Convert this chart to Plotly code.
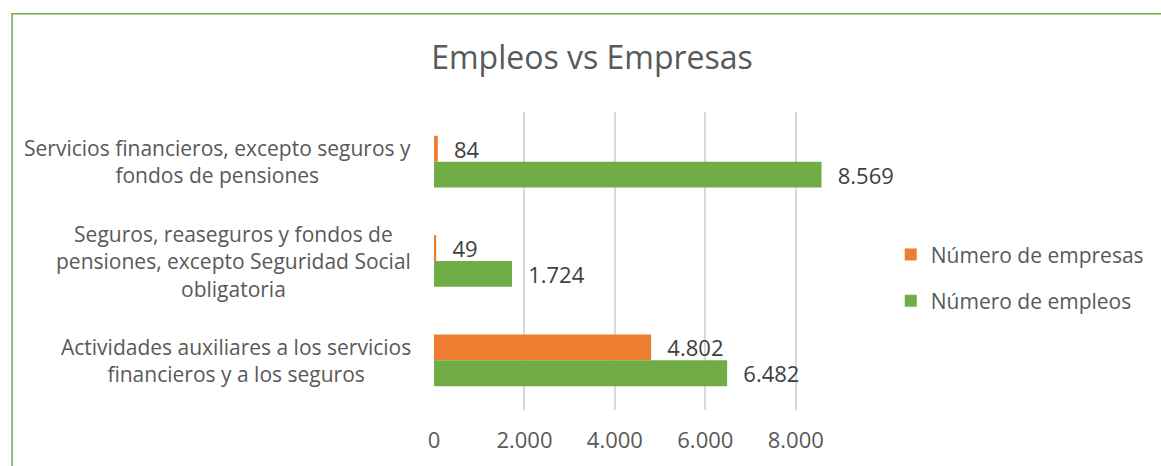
import plotly.graph_objects as go

categories = [
    "Servicios financieros, excepto seguros y<br>fondos de pensiones",
    "Seguros, reaseguros y fondos de<br>pensiones, excepto Seguridad Social<br>obligatoria",
    "Actividades auxiliares a los servicios<br>financieros y a los seguros",
]
cat_keys = ["Servicios", "Seguros", "Actividades"]
empresas = [84, 49, 4802]
empleos = [8569, 1724, 6482]
series_names = ["Número de empresas", "Número de empleos"]
tick_vals = [0, 2000, 4000, 6000, 8000]
tick_text = ["0", "2.000", "4.000", "6.000", "8.000"]

ORANGE = "#ED7D31"
GREEN = "#70AD47"
FONT = "Open Sans"
TXT = "#595959"

W, H = 1161, 466
L, R = 434, 843
T, B = 112, 412
pw, ph = R - L, B - T

fig = go.Figure()
for name, vals, col, grp in [(series_names[0], empresas, ORANGE, "a"),
                             (series_names[1], empleos, GREEN, "b")]:
    fig.add_trace(go.Bar(
        y=cat_keys, x=vals, name=name, orientation="h",
        marker=dict(color=col, line=dict(width=0)),
        texttemplate="\u2002\u200a%{x:,}", textposition="outside",
        textfont=dict(family=FONT, size=22, color="#404040"),
        cliponaxis=False, constraintext="none", legendgroup=grp,
    ))

for key, lab in zip(cat_keys, categories):
    fig.add_annotation(x=(413 - L) / pw, xref="paper", y=key, yref="y",
                       text=lab, showarrow=False, xanchor="right", align="center",
                       font=dict(family=FONT, size=21, color=TXT))

# chart border (green)
fig.add_shape(type="rect", xref="paper", yref="paper",
              x0=(10 - L) / pw, x1=3, y0=-2, y1=(B - 13) / ph,
              line=dict(color=GREEN, width=1.5), fillcolor="rgba(0,0,0,0)", layer="below")

fig.update_layout(
    width=W, height=H,
    margin=dict(l=L, r=W - R, t=T, b=H - B, pad=0),
    paper_bgcolor="white", plot_bgcolor="white",
    separators=",.",
    barmode="group", bargap=0.48, bargroupgap=0,
    title=dict(text="Empleos vs Empresas", x=592 / W, xref="container", xanchor="center",
               y=1 - 58 / H, yref="container", yanchor="middle",
               font=dict(family=FONT, size=32, color=TXT)),
    xaxis=dict(range=[0, 9000], tickvals=tick_vals, ticktext=tick_text,
               showgrid=True, gridcolor="#D9D9D9", gridwidth=1.5, zeroline=False,
               showline=False, ticks="", ticklabelstandoff=15,
               tickfont=dict(family=FONT, size=22, color=TXT)),
    yaxis=dict(autorange="reversed", showticklabels=False, showgrid=False,
               zeroline=False, showline=False, ticks=""),
    legend=dict(x=(893 - L) / pw, xanchor="left", y=(B - 279) / ph, yanchor="middle",
                font=dict(family=FONT, size=21, color=TXT), tracegroupgap=16,
                itemwidth=30, bgcolor="rgba(0,0,0,0)"),
    showlegend=True,
)
fig.write_html("out.html")
